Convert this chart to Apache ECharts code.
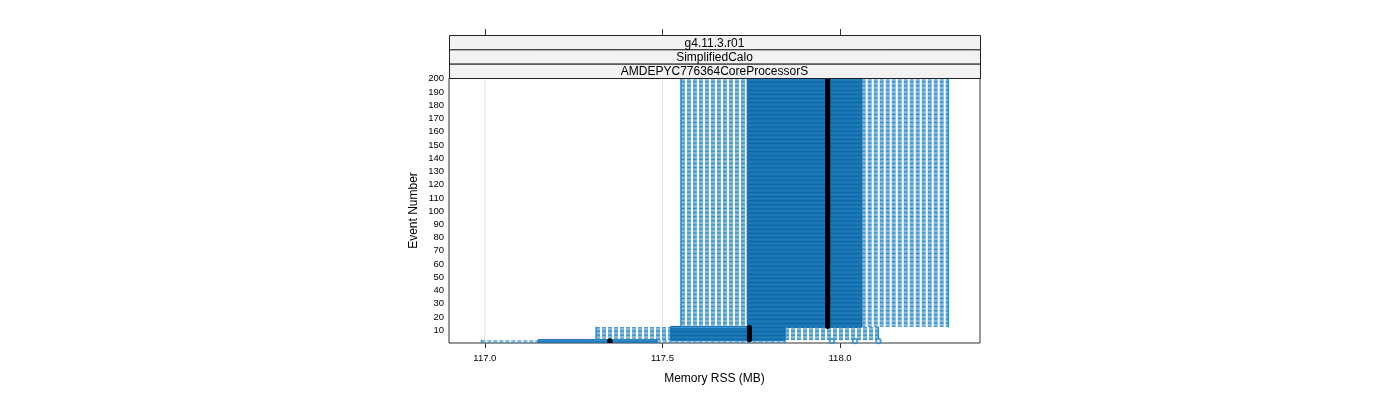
<!DOCTYPE html>
<html>
<head>
<meta charset="utf-8">
<script src="https://cdn.jsdelivr.net/npm/echarts@6/dist/echarts.min.js"></script>
<style>
html,body{margin:0;padding:0;background:#fff;}
#chart{width:1400px;height:400px;}
</style>
</head>
<body>
<div id="chart"></div>
<script>
// ---- data ----
const groupFirstEvent = [1, 3, 13];
const groupLastEvent  = [2, 12, 200];
const lowerWhisker    = [116.990, 117.313, 117.552];
const lowerQuartile   = [117.150, 117.523, 117.739];
const medianRSS       = [117.352, 117.745, 117.965];
const upperQuartile   = [117.484, 117.845, 118.061];
const upperWhisker    = [117.845, 118.108, 118.305];
const outlierEvent    = [2, 2, 2];
const outlierRSS      = [117.977, 118.042, 118.108];
const xTickValues     = [117.0, 117.5, 118.0];
const yTickValues     = [10, 20, 30, 40, 50, 60, 70, 80, 90, 100, 110, 120, 130, 140, 150, 160, 170, 180, 190, 200];
const stripLabels     = ['g4.11.3.r01', 'SimplifiedCalo', 'AMDEPYC776364CoreProcessorS'];
const xTitle = 'Memory RSS (MB)';
const yTitle = 'Event Number';

// ---- build per-event rows ----
const rows = [];
for (let g = 0; g < groupFirstEvent.length; g++) {
  for (let e = groupFirstEvent[g]; e <= groupLastEvent[g]; e++) {
    rows.push([e, lowerWhisker[g], lowerQuartile[g], medianRSS[g], upperQuartile[g], upperWhisker[g]]);
  }
}
const outliers = outlierEvent.map((e, i) => [outlierRSS[i], e]);

const BOX_FILL = '#3b93cf';
const BOX_EDGE = '#0b67a6';
const WHISKER = '#2f8ac7';
const GRID = {left: 449, top: 78, width: 531, height: 265};
const X_MIN = 116.899, X_MAX = 118.394;
const stripH = 43 / 3;
const BOX_H = 2.4;

const chart = echarts.init(document.getElementById('chart'), null, {renderer: 'canvas'});

function pts(api) {
  const ev = api.value(0);
  return [1, 2, 3, 4, 5].map(k => api.coord([api.value(k), ev]));
}

function renderRect(params, api) {
  const p = pts(api);
  const y = p[0][1];
  return {type: 'rect', shape: {x: p[1][0], y: y - BOX_H / 2, width: p[3][0] - p[1][0], height: BOX_H},
    style: {fill: BOX_FILL, stroke: BOX_EDGE, lineWidth: 1}};
}

function renderUmbrella(params, api) {
  const p = pts(api);
  const y = p[0][1];
  const dashStyle = {stroke: WHISKER, lineWidth: 1, lineDash: [4, 2]};
  return {
    type: 'group',
    children: [
      {type: 'line', shape: {x1: p[0][0], y1: y, x2: p[1][0], y2: y}, style: dashStyle},
      {type: 'line', shape: {x1: p[3][0], y1: y, x2: p[4][0], y2: y}, style: dashStyle},
      {type: 'line', shape: {x1: p[0][0], y1: y - BOX_H / 2, x2: p[0][0], y2: y + BOX_H / 2}, style: {stroke: WHISKER, lineWidth: 1}},
      {type: 'line', shape: {x1: p[4][0], y1: y - BOX_H / 2, x2: p[4][0], y2: y + BOX_H / 2}, style: {stroke: WHISKER, lineWidth: 1}}
    ]
  };
}

function renderDot(params, api) {
  const p = pts(api);
  return {type: 'circle', shape: {cx: p[2][0], cy: p[2][1], r: 2.6}, style: {fill: '#000'}};
}

function renderGridLine(params, api) {
  const v = api.value(0);
  const top = api.coord([v, 200.6]);
  const bot = api.coord([v, 0.4]);
  return {type: 'line', shape: {x1: top[0], y1: top[1], x2: bot[0], y2: bot[1]}, style: {stroke: '#e6e6e6', lineWidth: 1}};
}

const graphics = [];
stripLabels.forEach((t, i) => {
  const top = GRID.top - stripH * (stripLabels.length - i);
  graphics.push({
    type: 'rect', left: GRID.left, top: top, z: 10,
    shape: {width: GRID.width, height: stripH},
    style: {fill: '#f2f2f2', stroke: '#222', lineWidth: 1}
  });
  graphics.push({
    type: 'text', x: GRID.left + GRID.width / 2, y: top + stripH / 2 + 1.2, z: 11,
    style: {text: t, fill: '#000', font: '12px "Liberation Sans", Arial, sans-serif', align: 'center', verticalAlign: 'middle'}
  });
});

const enc = {x: [1, 2, 3, 4, 5], y: 0};
chart.setOption({
  animation: false,
  textStyle: {fontFamily: '"Liberation Sans", Arial, sans-serif'},
  grid: {left: GRID.left, top: GRID.top, width: GRID.width, height: GRID.height, show: true, borderColor: '#333', borderWidth: 1, backgroundColor: 'transparent', containLabel: false},
  xAxis: [{
    type: 'value', min: X_MIN, max: X_MAX, position: 'bottom',
    axisLine: {show: false},
    axisTick: {show: true, length: 5, customValues: xTickValues, lineStyle: {color: '#333'}},
    axisLabel: {customValues: xTickValues, formatter: v => v.toFixed(1), fontSize: 9.5, color: '#000', margin: 10},
    splitLine: {show: false},
    name: xTitle, nameLocation: 'middle', nameGap: 30, nameTextStyle: {fontSize: 12, color: '#000'}
  }, {
    type: 'value', min: X_MIN, max: X_MAX, position: 'top', offset: 43,
    axisLine: {show: false},
    axisTick: {show: true, length: 6, customValues: xTickValues, lineStyle: {color: '#333'}},
    axisLabel: {show: false},
    splitLine: {show: false}
  }],
  yAxis: {
    type: 'value', min: 0.4, max: 200.6,
    axisLine: {show: false},
    axisTick: {show: false},
    axisLabel: {customValues: yTickValues, fontSize: 9.5, color: '#000', margin: 5},
    splitLine: {show: false},
    name: yTitle, nameLocation: 'middle', nameGap: 29, nameTextStyle: {fontSize: 12, color: '#000'}
  },
  graphic: graphics,
  series: [
    {type: 'custom', renderItem: renderGridLine, data: xTickValues.map(v => [v]), z: 1, silent: true, encode: {x: 0}},
    {type: 'custom', renderItem: renderRect, data: rows, z: 2, clip: true, encode: enc},
    {type: 'custom', renderItem: renderUmbrella, data: rows, z: 3, clip: true, encode: enc},
    {type: 'custom', renderItem: renderDot, data: rows, z: 4, clip: true, encode: enc},
    {type: 'scatter', data: outliers, symbol: 'emptyCircle', symbolSize: 4.5, z: 5,
      itemStyle: {color: WHISKER, borderColor: WHISKER, borderWidth: 1}}
  ]
});
</script>
</body>
</html>
